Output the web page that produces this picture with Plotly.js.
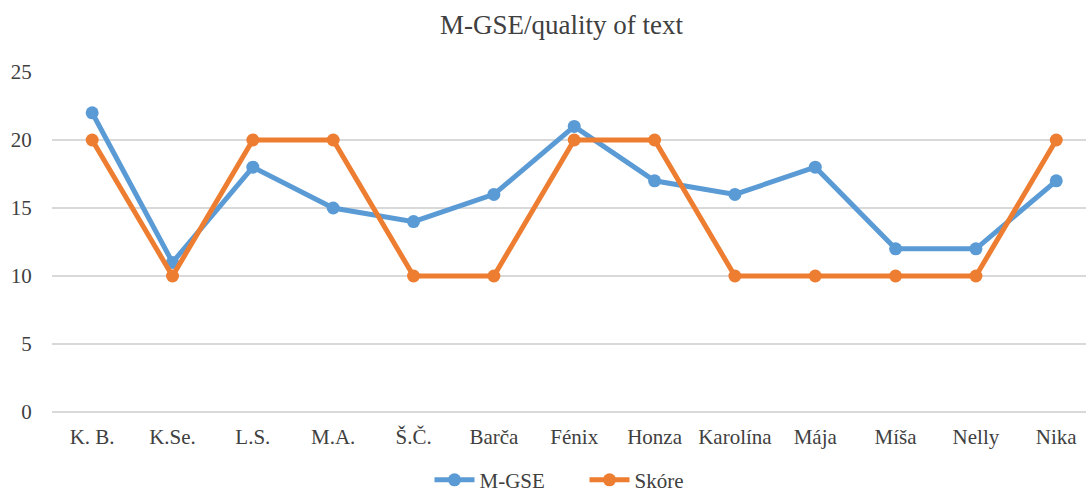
<!DOCTYPE html>
<html><head><meta charset="utf-8">
<script src="https://cdn.plot.ly/plotly-3.0.1.min.js"></script>
<style>html,body{margin:0;padding:0;background:#fff}#chart{width:1086px;height:493px}</style>
</head><body><div id="chart"></div>
<script>
const categories = ["K. B.", "K.Se.", "L.S.", "M.A.", "Š.Č.", "Barča", "Fénix", "Honza", "Karolína", "Mája", "Míša", "Nelly", "Nika"];
const mgse = [22, 11, 18, 15, 14, 16, 21, 17, 16, 18, 12, 12, 17];
const skore = [20, 10, 20, 20, 10, 10, 20, 20, 10, 10, 10, 10, 20];
const yTicks = [0, 5, 10, 15, 20, 25];

const font = "'Liberation Serif', 'Times New Roman', Tinos, 'DejaVu Serif', serif";
const traces = [
  {x: categories, y: mgse, name: "M-GSE", type: "scatter", mode: "lines+markers",
   line: {color: "#5B9BD5", width: 5}, marker: {color: "#5B9BD5", size: 13}},
  {x: categories, y: skore, name: "Skóre", type: "scatter", mode: "lines+markers",
   line: {color: "#ED7D31", width: 5}, marker: {color: "#ED7D31", size: 13}}
];
const layout = {
  width: 1086, height: 493,
  margin: {l: 52, r: 0, t: 72, b: 81, autoexpand: false},
  paper_bgcolor: "#fff", plot_bgcolor: "#fff",
  font: {family: font, color: "#404040", size: 21},
  title: {text: "M-GSE/quality of text", font: {family: font, size: 27, color: "#404040"}, x: 0.517, xanchor: "center", y: 0.95, yanchor: "middle"},
  xaxis: {type: "category", range: [-0.5, 12.37], showgrid: false, zeroline: false, showline: false,
          ticks: "outside", ticklen: 6, tickcolor: "rgba(0,0,0,0)", tickfont: {family: font, size: 21, color: "#404040"}},
  yaxis: {range: [0, 25], tickvals: yTicks, showgrid: true, gridcolor: "#D9D9D9", gridwidth: 2,
          zeroline: true, zerolinecolor: "#D9D9D9", zerolinewidth: 2,
          showline: false, ticks: "outside", ticklen: 15, tickcolor: "rgba(0,0,0,0)", tickfont: {family: font, size: 21, color: "#404040"}},
  showlegend: true,
  legend: {orientation: "h", x: 0.515, xanchor: "center", yref: "container", y: 0.026, yanchor: "middle",
           font: {family: font, size: 21, color: "#404040"}, entrywidth: 100, entrywidthmode: "pixels", itemwidth: 40},
  hovermode: false
};
Plotly.newPlot("chart", traces, layout, {displayModeBar: false, staticPlot: true});
</script></body></html>
